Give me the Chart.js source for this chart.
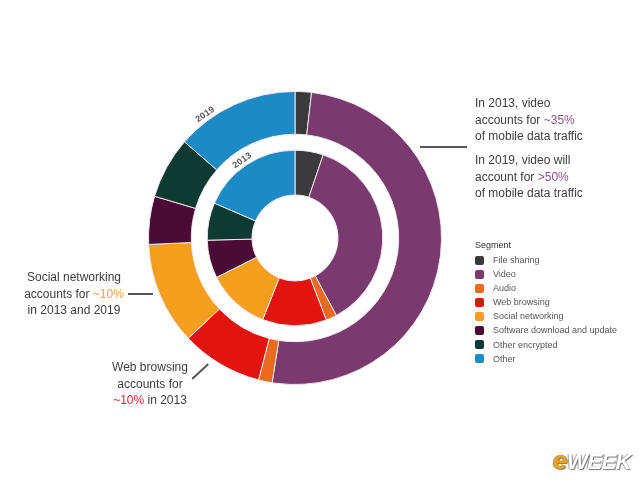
<!DOCTYPE html>
<html>
<head>
<meta charset="utf-8">
<script src="https://cdn.jsdelivr.net/npm/chart.js@4"></script>
<style>
  html, body { margin: 0; padding: 0; background: #fff; }
  #wrap { position: relative; width: 640px; height: 480px; overflow: hidden;
          font-family: "Liberation Sans", Arial, Helvetica, sans-serif; color: #3d3d3d; }
  #chart { position: absolute; left: 0; top: 0; }
  .note { position: absolute; font-size: 12px; line-height: 16.5px; color: #3d3d3d; }
  .line { position: absolute; background: #555; height: 1.5px; transform-origin: 0 50%; }
  .year { position: absolute; font-size: 9px; font-weight: bold; color: #555;
          transform: translate(-50%, -50%) rotate(-35deg); letter-spacing: 0.3px; }
  #legend { position: absolute; left: 475px; top: 240px; font-size: 9px; color: #555; }
  #legend .title { color: #333; height: 13px; }
  #legend .item { position: relative; height: 14.1px; line-height: 14.1px; padding-left: 18px; }
  #legend .sw { position: absolute; left: 0; top: 2.5px; width: 9px; height: 9px; border-radius: 2px; }
  #logo { position: absolute; left: 553px; top: 445px; font-size: 22px; font-weight: bold;
          font-style: italic; color: #fff; letter-spacing: -0.5px;
          text-shadow: 1px 1px 1px #777, -1px 0 1px #999; }
  #logo span { color: #f2a20c; font-size: 26px; }
</style>
</head>
<body>
<div id="wrap">
  <canvas id="chart" width="640" height="480"></canvas>

  <div class="year" style="left:205px; top:114px;">2019</div>
  <div class="year" style="left:242px; top:160px;">2013</div>

  <div class="note" style="left:475px; top:95px;">In 2013, video<br>accounts for <span style="color:#8e4f8f">~35%</span><br>of mobile data traffic</div>
  <div class="note" style="left:475px; top:152px;">In 2019, video will<br>account for <span style="color:#8e4f8f">&gt;50%</span><br>of mobile data traffic</div>
  <div class="line" style="left:420px; top:146px; width:47px;"></div>

  <div class="note" style="left:14px; top:269px; width:120px; text-align:center;">Social networking<br>accounts for <span style="color:#f5a53a">~10%</span><br>in 2013 and 2019</div>
  <div class="line" style="left:128px; top:293px; width:25px;"></div>

  <div class="note" style="left:90px; top:359px; width:120px; text-align:center;">Web browsing<br>accounts for<br><span style="color:#e3262b">~10%</span> in 2013</div>
  <div class="line" style="left:192px; top:378px; width:22px; transform: rotate(-43deg);"></div>

  <div id="legend"></div>
  <div id="logo"><span>e</span>WEEK</div>
</div>

<script>
const segments = ['File sharing', 'Video', 'Audio', 'Web browsing', 'Social networking',
                  'Software download and update', 'Other encrypted', 'Other'];
const colors = ['#3a3a3d', '#7a3a6e', '#ea6a1e', '#e3140f', '#f69f1e', '#4a0b34', '#0f3a31', '#1b8ac5'];
const share2019 = [1.8, 50.7, 1.5, 9.0, 11.3, 5.3, 6.8, 13.6];
const share2013 = [5.2, 37.0, 2.0, 11.8, 11.6, 7.0, 6.9, 18.5];

// legend built from the same arrays
const legend = document.getElementById('legend');
legend.innerHTML = '<div class="title">Segment</div>' + segments.map((s, i) =>
  '<div class="item"><span class="sw" style="background:' + colors[i] + '"></span>' + s + '</div>').join('');

new Chart(document.getElementById('chart').getContext('2d'), {
  type: 'doughnut',
  data: {
    labels: segments,
    datasets: [
      { label: '2019', data: share2019, backgroundColor: colors, borderColor: '#efe6ef', borderWidth: 1, weight: 43 },
      { label: 'gap', data: [1], backgroundColor: 'rgba(0,0,0,0)', borderWidth: 0, weight: 16 },
      { label: '2013', data: share2013, backgroundColor: colors, borderColor: '#efe6ef', borderWidth: 1, weight: 45 }
    ]
  },
  options: {
    responsive: false,
    animation: false,
    cutout: 43,
    layout: { padding: { left: 148, top: 91, right: 198, bottom: 95 } },
    plugins: { legend: { display: false }, tooltip: { enabled: false } },
    events: []
  }
});
</script>
</body>
</html>
